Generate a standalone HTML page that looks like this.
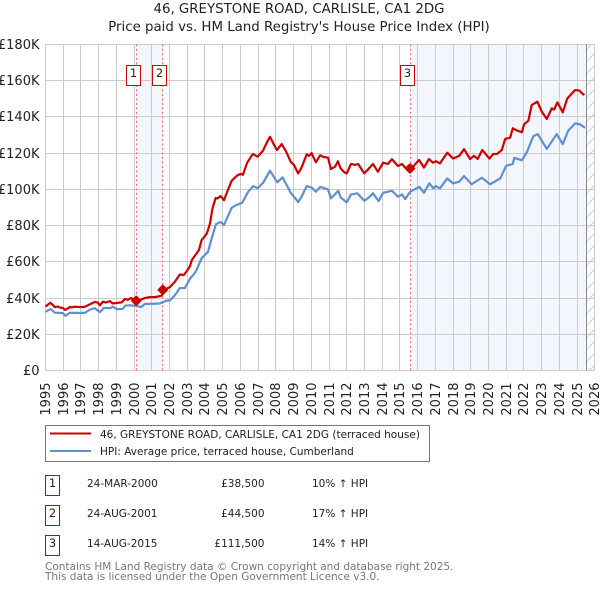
<!DOCTYPE html>
<html>
<head>
<meta charset="utf-8">
<title>46, GREYSTONE ROAD, CARLISLE, CA1 2DG</title>
<style>
html,body{margin:0;padding:0;background:#fff;}
svg{display:block;}
text{font-family:"DejaVu Sans","Liberation Sans",sans-serif;fill:#222;}
</style>
</head>
<body>
<svg id="chart" xmlns="http://www.w3.org/2000/svg" width="600" height="590" viewBox="0 0 600 590">
  <defs>
    <pattern id="hatch" patternUnits="userSpaceOnUse" width="12" height="12">
      <path d="M-1 13 L13 -1" stroke="#cccccc" stroke-width="1" fill="none"/>
    </pattern>
  </defs>
  <text x="299" y="13" text-anchor="middle" font-size="13.35">46, GREYSTONE ROAD, CARLISLE, CA1 2DG</text>
  <text x="299" y="31" text-anchor="middle" font-size="13.35">Price paid vs. HM Land Registry's House Price Index (HPI)</text>
  <g id="plot"></g>

  <g>
    <rect x="45.5" y="425.5" width="384" height="36" fill="#fff" stroke="#777" stroke-width="1"/>
    <line x1="50" x2="91" y1="433.5" y2="433.5" stroke="#cc0000" stroke-width="2"/>
    <text x="100" y="438" font-size="10.5">46, GREYSTONE ROAD, CARLISLE, CA1 2DG (terraced house)</text>
    <line x1="50" x2="91" y1="451" y2="451" stroke="#5f8fd0" stroke-width="2"/>
    <text x="100" y="455" font-size="10.5">HPI: Average price, terraced house, Cumberland</text>
  </g>

  <g>
    <g>
      <rect x="45.5" y="475.5" width="14" height="20" fill="#fff" stroke="#cc0000"/>
      <text x="52.5" y="487" text-anchor="middle" font-size="11.5">1</text>
      <text x="87" y="487" font-size="10.5">24-MAR-2000</text>
      <text x="264.5" y="487" text-anchor="end" font-size="10.5">£38,500</text>
      <text x="312" y="487" font-size="10.5">10% ↑ HPI</text>
    </g>
    <g>
      <rect x="45.5" y="505.5" width="14" height="20" fill="#fff" stroke="#cc0000"/>
      <text x="52.5" y="517" text-anchor="middle" font-size="11.5">2</text>
      <text x="87" y="517" font-size="10.5">24-AUG-2001</text>
      <text x="264.5" y="517" text-anchor="end" font-size="10.5">£44,500</text>
      <text x="312" y="517" font-size="10.5">17% ↑ HPI</text>
    </g>
    <g>
      <rect x="45.5" y="535.5" width="14" height="20" fill="#fff" stroke="#cc0000"/>
      <text x="52.5" y="547" text-anchor="middle" font-size="11.5">3</text>
      <text x="87" y="547" font-size="10.5">14-AUG-2015</text>
      <text x="264.5" y="547" text-anchor="end" font-size="10.5">£111,500</text>
      <text x="312" y="547" font-size="10.5">14% ↑ HPI</text>
    </g>
  </g>

  <text x="45" y="570" font-size="10.5" style="fill:#777">Contains HM Land Registry data © Crown copyright and database right 2025.</text>
  <text x="45" y="580" font-size="10.5" style="fill:#777">This data is licensed under the Open Government Licence v3.0.</text>
</svg>

<script>
var yearTicks = [1995,1996,1997,1998,1999,2000,2001,2002,2003,2004,2005,2006,2007,2008,2009,2010,2011,2012,2013,2014,2015,2016,2017,2018,2019,2020,2021,2022,2023,2024,2025,2026];
var valueTicks = [0,20,40,60,80,100,120,140,160,180];
var valueTickLabels = ["£0","£20K","£40K","£60K","£80K","£100K","£120K","£140K","£160K","£180K"];

var priceYears = [1995,1995.28,1995.53,1995.7,1995.8,1995.98,1996.12,1996.37,1996.48,1996.65,1996.94,1997.22,1997.5,1997.78,1997.95,1998.07,1998.24,1998.4,1998.63,1998.8,1999.03,1999.31,1999.48,1999.65,1999.82,2000.05,2000.12,2000.32,2000.6,2000.89,2001.17,2001.45,2001.57,2001.62,2001.75,2002.02,2002.3,2002.58,2002.81,2002.98,2003.15,2003.26,2003.53,2003.66,2003.81,2003.94,2004.11,2004.28,2004.43,2004.6,2004.72,2004.88,2005.07,2005.29,2005.5,2005.69,2005.86,2006.03,2006.14,2006.37,2006.7,2006.97,2007.27,2007.5,2007.67,2007.9,2008.06,2008.33,2008.57,2008.84,2009.02,2009.26,2009.45,2009.74,2009.87,2010.02,2010.15,2010.26,2010.5,2010.71,2010.94,2011.11,2011.34,2011.5,2011.66,2011.85,2012,2012.24,2012.47,2012.64,2012.81,2012.99,2013.26,2013.48,2013.76,2014.05,2014.32,2014.55,2014.89,2015.12,2015.29,2015.53,2015.74,2016.08,2016.36,2016.64,2016.87,2017.03,2017.26,2017.67,2018.01,2018.35,2018.62,2018.96,2019.18,2019.39,2019.65,2020.05,2020.27,2020.48,2020.75,2020.94,2021.22,2021.37,2021.6,2021.88,2022.01,2022.25,2022.44,2022.76,2023.01,2023.29,2023.57,2023.7,2023.89,2024.19,2024.45,2024.89,2025.13,2025.28,2025.41];
var priceValues = [35.3,37.4,35,35.3,34.8,34.5,33.4,35,34.8,35.2,35,35.2,36.5,37.8,37.5,36,38,37.5,38.3,37,37.3,37.6,39.5,39,40,39,38.5,38.8,40,40.5,40.5,41,41.5,44.5,44.8,46,49,53,52.7,55,57.5,61,64.7,66.5,72,73.5,75.7,81,89.7,95.2,95,96.3,94,99.5,104.6,106.5,107.9,108.5,108,114.5,119.5,118,121.3,126,129,124.5,121.7,125,121,115.2,113.5,108.8,112,119.3,118.5,120,117,115,118.8,117.8,117.5,111.2,112.5,115.5,111.5,109.5,108.8,114,113.5,114,111.5,108.8,111.6,114,109.7,114.7,114,116.6,112.9,114,112,111.5,112.5,116.2,112,116.7,114.7,115.5,114.3,120.2,117,118.5,122.2,116.7,118.5,116.8,121.7,117,119.5,119.5,121.7,127.8,128.5,133.7,132.5,131.5,135.9,137.9,146.5,148.4,142.8,138.8,144.7,144,148,142.5,150.2,154.8,154.5,153,152];

var hpiYears = [1995,1995.28,1995.53,1995.98,1996.12,1996.37,1996.6,1997.22,1997.5,1997.78,1998.07,1998.3,1998.63,1998.8,1999.03,1999.35,1999.5,1999.8,2000.2,2000.4,2000.6,2001,2001.45,2001.6,2001.8,2002.02,2002.3,2002.58,2002.86,2003.18,2003.4,2003.53,2003.81,2004.17,2004.38,2004.62,2004.88,2005.07,2005.5,2005.7,2006.1,2006.44,2006.72,2006.97,2007.28,2007.67,2008.08,2008.38,2008.84,2009.26,2009.45,2009.74,2010.02,2010.26,2010.5,2010.94,2011.11,2011.52,2011.66,2012,2012.24,2012.6,2012.99,2013.26,2013.48,2013.8,2014.05,2014.55,2014.89,2015.12,2015.3,2015.58,2016.1,2016.36,2016.66,2016.89,2017.03,2017.26,2017.67,2018.01,2018.35,2018.62,2019.05,2019.62,2020.09,2020.66,2021,2021.37,2021.46,2021.88,2022.16,2022.53,2022.78,2023.29,2023.85,2024.19,2024.5,2024.89,2025.13,2025.45];
var hpiValues = [32.4,33.9,31.9,31.7,30.2,31.8,31.8,31.8,33.6,34.4,32.2,34.6,34.4,35.2,33.8,34,35.8,36,35.5,35,36.7,36.8,37,37.5,38.5,38.7,41.5,45.5,45.5,51,53.5,55.5,62,65.5,73,80.8,82,80.3,89.7,91,92.6,98.7,101.8,100.6,103.6,110.3,103.9,106.6,98.1,93,95.9,101.8,101,98.7,101.3,100,95,99.2,95.5,92.8,97.2,97.8,93.7,95.6,97.8,93.5,98.1,99.2,95.9,97.2,94.6,98.7,101.4,98.1,103.3,100.5,101.8,100.5,106,103.3,104.2,107.3,102.8,106.4,102.8,106,113,114,117.4,116,120.4,129.4,130.5,122.3,130.5,125,132.4,136.4,136,134];

var saleYears = [2000.12,2001.62,2015.57];
var saleValues = [38.5,44.5,111.5];
var saleLabels = ["1","2","3"];
var dataEndYear = 2025.52;

var NS = "http://www.w3.org/2000/svg";
var plot = document.getElementById("plot");
function xScale(year){ return 45.5 + (year - 1995) * 17.72; }
function yScale(value){ return 370.5 - value * 1.8117; }
function crisp(p){ return Math.floor(p) + 0.5; }
function make(tag, attrs, parent){
  var el = document.createElementNS(NS, tag);
  for (var k in attrs) { el.setAttribute(k, attrs[k]); }
  (parent || plot).appendChild(el);
  return el;
}
function linePath(xs, ys){
  var d = "";
  for (var i = 0; i < xs.length; i++) {
    d += (i ? "L" : "M") + xScale(xs[i]).toFixed(2) + " " + yScale(ys[i]).toFixed(2);
  }
  return d;
}

var xLeft = xScale(yearTicks[0]);
var xRight = xScale(yearTicks[yearTicks.length - 1]);
var yBottom = yScale(valueTicks[0]);
var yTop = yScale(valueTicks[valueTicks.length - 1]);

var band1 = make("rect", {x: xScale(saleYears[0]), y: yTop, width: xScale(saleYears[1]) - xScale(saleYears[0]), height: yBottom - yTop, fill: "#f3f6fd"});


var band2 = make("rect", {x: xScale(saleYears[2]), y: yTop, width: xScale(dataEndYear) - xScale(saleYears[2]), height: yBottom - yTop, fill: "#f3f6fd"});


var hatch = make("rect", {x: xScale(dataEndYear), y: yTop, width: xRight - xScale(dataEndYear), height: yBottom - yTop, fill: "url(#hatch)"});



yearTicks.forEach(function(year){
  var x = crisp(xScale(year));
  var g = make("line", {x1: x, x2: x, y1: crisp(yTop), y2: crisp(yBottom), stroke: "#cccccc", "stroke-width": 1});
  
  
  var t = make("text", {transform: "translate(" + (x + 4.5) + ",382.5) rotate(-90)", "text-anchor": "end", "font-size": 13});
  
  
  t.textContent = year;
});
valueTicks.forEach(function(value, i){
  var y = crisp(yScale(value));
  var g = make("line", {x1: crisp(xLeft), x2: crisp(xRight), y1: y, y2: y, stroke: "#cccccc", "stroke-width": 1});
  
  
  var t = make("text", {x: 39.5, y: y + 4.5, "text-anchor": "end", "font-size": 13});
  
  
  t.textContent = valueTickLabels[i];
});

var endLine = make("line", {x1: crisp(xScale(dataEndYear)), x2: crisp(xScale(dataEndYear)), y1: yTop, y2: yBottom, stroke: "#888888", "stroke-width": 1});



saleYears.forEach(function(year){
  var x = crisp(xScale(year));
  var l = make("line", {x1: x, x2: x, y1: yTop, y2: yBottom, stroke: "#ff6666", "stroke-width": 1, "stroke-dasharray": "2 2.5"});
  
  
});

var hpiLine = make("path", {d: linePath(hpiYears, hpiValues), fill: "none", stroke: "#5f8fd0", "stroke-width": 2.2, "stroke-linejoin": "round"});


var priceLine = make("path", {d: linePath(priceYears, priceValues), fill: "none", stroke: "#cc0000", "stroke-width": 2.2, "stroke-linejoin": "round"});



saleYears.forEach(function(year, i){
  var x = xScale(year), y = yScale(saleValues[i]), r = 4.2;
  var m = make("path", {d: "M" + x + " " + (y - r) + "L" + (x + r) + " " + y + "L" + x + " " + (y + r) + "L" + (x - r) + " " + y + "Z", fill: "#cc0000", stroke: "#cc0000", "stroke-width": 2, "stroke-linejoin": "round"});
  
  
  var bx = crisp(xScale(year)) - 10;
  var b = make("rect", {x: bx, y: 65.5, width: 14, height: 20, fill: "#fff", stroke: "#cc0000", "stroke-width": 1});
  
  
  var t = make("text", {x: bx + 7, y: 77, "text-anchor": "middle", "font-size": 11.5});
  
  
  t.textContent = saleLabels[i];
});
</script>
</body>
</html>
